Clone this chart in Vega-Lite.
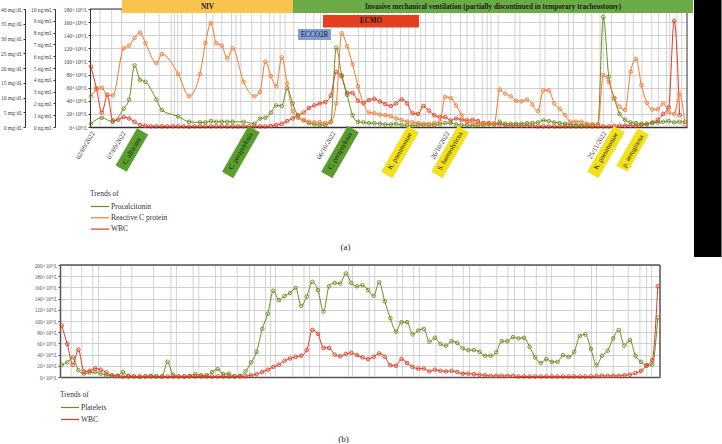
{
"$schema": "https://vega.github.io/schema/vega-lite/v6.json",
"padding": 0,
"autosize": {"type": "pad"},
"background": "white",
"config": {"view": {"stroke": null}, "font": "Liberation Serif"},
"bounds": "flush",
"spacing": 138,
"resolve": {"scale": {"x": "independent", "y": "independent", "color": "independent"}, "legend": {"color": "independent"}},
"datasets": {
"wbc": [{"t":0,"v":92},{"t":1,"v":59},{"t":2,"v":22},{"t":3,"v":49},{"t":4,"v":10},{"t":5,"v":11},{"t":6,"v":15},{"t":7,"v":13},{"t":8,"v":8},{"t":9,"v":3},{"t":10,"v":2},{"t":11,"v":1},{"t":12,"v":1},{"t":13,"v":1},{"t":14,"v":1},{"t":15,"v":1},{"t":16,"v":1},{"t":17,"v":1},{"t":18,"v":0.5},{"t":19,"v":1},{"t":20,"v":1},{"t":21,"v":1},{"t":22,"v":1},{"t":23,"v":1},{"t":24,"v":1},{"t":25,"v":1},{"t":26,"v":1},{"t":27,"v":1},{"t":28,"v":1},{"t":29,"v":1},{"t":30,"v":1},{"t":31,"v":1},{"t":32,"v":1},{"t":33,"v":1.5},{"t":34,"v":3},{"t":35,"v":5},{"t":36,"v":9},{"t":37,"v":13},{"t":38,"v":18},{"t":39,"v":22},{"t":40,"v":29},{"t":41,"v":33},{"t":42,"v":36},{"t":43,"v":38},{"t":44,"v":48},{"t":45,"v":84},{"t":46,"v":77},{"t":47,"v":52},{"t":48,"v":52},{"t":49,"v":40},{"t":50,"v":37},{"t":51,"v":41},{"t":52,"v":43},{"t":53,"v":39},{"t":54,"v":35},{"t":55,"v":32},{"t":56,"v":36},{"t":57,"v":42},{"t":58,"v":36},{"t":59,"v":21},{"t":60,"v":20},{"t":61,"v":32},{"t":62,"v":25},{"t":63,"v":18},{"t":64,"v":15},{"t":65,"v":15},{"t":66,"v":10},{"t":67,"v":13},{"t":68,"v":11},{"t":69,"v":10},{"t":70,"v":11},{"t":71,"v":9},{"t":72,"v":6},{"t":73,"v":6},{"t":74,"v":5},{"t":75,"v":4},{"t":76,"v":3},{"t":77,"v":2},{"t":78,"v":2},{"t":79,"v":2},{"t":80,"v":2},{"t":81,"v":2},{"t":82,"v":1},{"t":83,"v":1},{"t":84,"v":1},{"t":85,"v":1},{"t":86,"v":1},{"t":87,"v":1},{"t":88,"v":1},{"t":89,"v":1},{"t":90,"v":1},{"t":91,"v":1},{"t":92,"v":1},{"t":93,"v":1},{"t":94,"v":1},{"t":95,"v":1},{"t":96,"v":1.5},{"t":97,"v":2},{"t":98,"v":2},{"t":99,"v":2},{"t":100,"v":2},{"t":101,"v":3},{"t":102,"v":4},{"t":103,"v":7},{"t":104,"v":11},{"t":105,"v":20},{"t":106,"v":30},{"t":107,"v":162},{"t":108,"v":18}],
"plt": [{"t":0,"v":22},{"t":1,"v":26},{"t":2,"v":35},{"t":3,"v":12},{"t":4,"v":6},{"t":5,"v":8},{"t":6,"v":9},{"t":7,"v":6},{"t":8,"v":3},{"t":9,"v":2},{"t":10,"v":2},{"t":11,"v":9},{"t":12,"v":2},{"t":13,"v":1},{"t":14,"v":0},{"t":15,"v":1},{"t":16,"v":2},{"t":17,"v":1},{"t":18,"v":1},{"t":19,"v":27},{"t":20,"v":4},{"t":21,"v":1},{"t":22,"v":1},{"t":23,"v":2},{"t":24,"v":5},{"t":25,"v":3},{"t":26,"v":3},{"t":27,"v":9},{"t":28,"v":14},{"t":29,"v":5},{"t":30,"v":6},{"t":31,"v":1},{"t":32,"v":2},{"t":33,"v":10},{"t":34,"v":26},{"t":35,"v":45},{"t":36,"v":86},{"t":37,"v":113},{"t":38,"v":154},{"t":39,"v":137},{"t":40,"v":145},{"t":41,"v":150},{"t":42,"v":159},{"t":43,"v":127},{"t":44,"v":144},{"t":45,"v":170},{"t":46,"v":155},{"t":47,"v":117},{"t":48,"v":162},{"t":49,"v":168},{"t":50,"v":167},{"t":51,"v":185},{"t":52,"v":168},{"t":53,"v":162},{"t":54,"v":164},{"t":55,"v":155},{"t":56,"v":145},{"t":57,"v":169},{"t":58,"v":135},{"t":59,"v":105},{"t":60,"v":81},{"t":61,"v":98},{"t":62,"v":98},{"t":63,"v":76},{"t":64,"v":83},{"t":65,"v":86},{"t":66,"v":63},{"t":67,"v":70},{"t":68,"v":59},{"t":69,"v":56},{"t":70,"v":64},{"t":71,"v":61},{"t":72,"v":51},{"t":73,"v":48},{"t":74,"v":48},{"t":75,"v":45},{"t":76,"v":38},{"t":77,"v":38},{"t":78,"v":44},{"t":79,"v":64},{"t":80,"v":64},{"t":81,"v":71},{"t":82,"v":69},{"t":83,"v":70},{"t":84,"v":54},{"t":85,"v":35},{"t":86,"v":25},{"t":87,"v":32},{"t":88,"v":27},{"t":89,"v":27},{"t":90,"v":39},{"t":91,"v":36},{"t":92,"v":45},{"t":93,"v":73},{"t":94,"v":76},{"t":95,"v":50},{"t":96,"v":21},{"t":97,"v":38},{"t":98,"v":47},{"t":99,"v":69},{"t":100,"v":84},{"t":101,"v":56},{"t":102,"v":66},{"t":103,"v":38},{"t":104,"v":27},{"t":105,"v":21},{"t":106,"v":22},{"t":107,"v":106}],
"pct": [{"t":0,"v":0.28},{"t":2,"v":0.78},{"t":4,"v":0.44},{"t":6,"v":1.56},{"t":7,"v":2.33},{"t":8,"v":5.22},{"t":9,"v":4.0},{"t":10,"v":3.83},{"t":12,"v":2.33},{"t":13,"v":1.44},{"t":16,"v":0.89},{"t":18,"v":0.44},{"t":20,"v":0.39},{"t":21,"v":0.39},{"t":22,"v":0.5},{"t":23,"v":0.44},{"t":24,"v":0.44},{"t":25,"v":0.44},{"t":26,"v":0.44},{"t":28,"v":0.44},{"t":30,"v":0.28},{"t":31,"v":0.72},{"t":32,"v":0.78},{"t":33,"v":1.22},{"t":34,"v":1.83},{"t":35,"v":1.78},{"t":36,"v":3.28},{"t":37,"v":2.0},{"t":38,"v":0.89},{"t":39,"v":0.56},{"t":40,"v":0.33},{"t":41,"v":0.22},{"t":42,"v":0.17},{"t":43,"v":0.17},{"t":44,"v":0.44},{"t":45,"v":6.72},{"t":46,"v":4.39},{"t":47,"v":2.72},{"t":48,"v":1.0},{"t":49,"v":0.44},{"t":50,"v":0.39},{"t":51,"v":0.33},{"t":52,"v":0.33},{"t":53,"v":0.28},{"t":54,"v":0.22},{"t":55,"v":0.22},{"t":56,"v":0.28},{"t":57,"v":0.17},{"t":58,"v":0.17},{"t":59,"v":0.11},{"t":60,"v":0.17},{"t":61,"v":0.17},{"t":62,"v":0.17},{"t":63,"v":0.17},{"t":64,"v":0.22},{"t":65,"v":0.33},{"t":66,"v":0.33},{"t":67,"v":0.22},{"t":68,"v":0.17},{"t":69,"v":0.17},{"t":70,"v":0.11},{"t":71,"v":0.17},{"t":72,"v":0.17},{"t":73,"v":0.22},{"t":74,"v":0.22},{"t":75,"v":0.44},{"t":76,"v":0.28},{"t":77,"v":0.28},{"t":78,"v":0.28},{"t":79,"v":0.28},{"t":80,"v":0.33},{"t":81,"v":0.33},{"t":82,"v":0.39},{"t":83,"v":0.56},{"t":84,"v":0.5},{"t":85,"v":0.39},{"t":86,"v":0.33},{"t":87,"v":0.28},{"t":88,"v":0.22},{"t":89,"v":0.17},{"t":90,"v":0.17},{"t":91,"v":0.17},{"t":92,"v":0.17},{"t":93,"v":0.22},{"t":94,"v":9.33},{"t":95,"v":4.28},{"t":96,"v":2.44},{"t":97,"v":1.11},{"t":98,"v":0.61},{"t":99,"v":0.39},{"t":100,"v":0.33},{"t":101,"v":0.28},{"t":102,"v":0.28},{"t":103,"v":0.33},{"t":104,"v":0.39},{"t":105,"v":0.44},{"t":106,"v":0.5},{"t":107,"v":0.39},{"t":108,"v":0.44},{"t":109,"v":0.44}],
"crp": [{"t":0,"v":10.4},{"t":1,"v":12.7},{"t":2,"v":13.3},{"t":3,"v":10.7},{"t":4,"v":10.7},{"t":6,"v":26.7},{"t":7,"v":27.6},{"t":8,"v":30.2},{"t":9,"v":32.0},{"t":10,"v":28.4},{"t":12,"v":21.6},{"t":13,"v":24.7},{"t":16,"v":18.0},{"t":18,"v":10.4},{"t":20,"v":18.0},{"t":21,"v":28.4},{"t":22,"v":35.3},{"t":23,"v":28.4},{"t":24,"v":27.6},{"t":25,"v":23.3},{"t":26,"v":26.7},{"t":28,"v":15.3},{"t":30,"v":10.4},{"t":31,"v":11.8},{"t":32,"v":22.2},{"t":33,"v":17.3},{"t":34,"v":13.8},{"t":35,"v":23.6},{"t":36,"v":14.7},{"t":37,"v":5.3},{"t":38,"v":3.1},{"t":39,"v":2.4},{"t":40,"v":1.8},{"t":41,"v":1.6},{"t":42,"v":1.6},{"t":43,"v":1.3},{"t":44,"v":1.6},{"t":45,"v":8.0},{"t":46,"v":31.8},{"t":47,"v":27.3},{"t":48,"v":21.3},{"t":49,"v":13.8},{"t":50,"v":8.0},{"t":51,"v":4.9},{"t":52,"v":4.7},{"t":53,"v":4.2},{"t":54,"v":4.0},{"t":55,"v":3.6},{"t":56,"v":2.9},{"t":57,"v":2.4},{"t":58,"v":1.8},{"t":59,"v":1.6},{"t":60,"v":1.3},{"t":61,"v":1.1},{"t":62,"v":1.1},{"t":63,"v":1.3},{"t":64,"v":1.8},{"t":65,"v":10.2},{"t":66,"v":9.8},{"t":67,"v":7.3},{"t":68,"v":4.0},{"t":69,"v":1.8},{"t":70,"v":1.3},{"t":71,"v":1.1},{"t":72,"v":1.1},{"t":73,"v":1.1},{"t":74,"v":1.1},{"t":75,"v":12.7},{"t":76,"v":11.3},{"t":77,"v":10.4},{"t":78,"v":8.9},{"t":79,"v":8.7},{"t":80,"v":9.3},{"t":81,"v":7.6},{"t":82,"v":5.3},{"t":83,"v":12.4},{"t":84,"v":12.4},{"t":85,"v":8.0},{"t":86,"v":6.2},{"t":87,"v":4.0},{"t":88,"v":1.8},{"t":89,"v":1.8},{"t":90,"v":1.8},{"t":91,"v":1.1},{"t":92,"v":0.9},{"t":93,"v":0.9},{"t":94,"v":17.6},{"t":95,"v":15.3},{"t":96,"v":9.8},{"t":97,"v":6.9},{"t":98,"v":5.8},{"t":99,"v":18.7},{"t":100,"v":23.1},{"t":101,"v":14.2},{"t":102,"v":8.2},{"t":103,"v":6.0},{"t":104,"v":6.0},{"t":105,"v":8.0},{"t":106,"v":5.1},{"t":107,"v":4.4},{"t":108,"v":11.1},{"t":109,"v":0.9}],
"vgt": [{"t":1.65},{"t":3.8},{"t":5.6},{"t":9.8},{"t":12.5},{"t":14.7},{"t":15.3},{"t":15.9},{"t":16.6},{"t":18.6},{"t":21.2},{"t":22.4},{"t":24.0},{"t":25.8},{"t":26.6},{"t":27.5},{"t":29.5},{"t":31.2},{"t":32.8},{"t":33.6},{"t":34.7},{"t":35.6},{"t":37.2},{"t":39.4},{"t":40.9},{"t":42.1},{"t":43.2},{"t":49.1},{"t":50.4},{"t":51.8},{"t":53.2},{"t":54.3},{"t":55.4},{"t":56.8},{"t":58.3},{"t":59.5},{"t":60.5},{"t":61.4},{"t":62.9},{"t":64.4},{"t":66.0},{"t":67.8},{"t":69.0},{"t":70.3},{"t":71.8},{"t":72.7},{"t":73.4},{"t":74.7},{"t":77.8},{"t":78.7},{"t":82.4},{"t":83.3},{"t":85.8},{"t":87.6},{"t":88.5},{"t":90.7},{"t":91.9},{"t":93.4},{"t":94.0},{"t":95.5},{"t":98.0},{"t":99.5},{"t":101.1},{"t":102.9},{"t":104.1},{"t":105.6},{"t":106.2},{"t":107.5},{"t":108.4}],
"vgb": [{"t":1.7},{"t":3.6},{"t":5.6},{"t":6.6},{"t":10.6},{"t":12.6},{"t":16.5},{"t":19.6},{"t":20.6},{"t":23.6},{"t":24.6},{"t":27.6},{"t":28.6},{"t":31.5},{"t":33.7},{"t":34.6},{"t":36.6},{"t":37.5},{"t":38.4},{"t":41.5},{"t":43.5},{"t":44.5},{"t":46.3},{"t":51.5},{"t":52.2},{"t":55.2},{"t":56.2},{"t":60.2},{"t":61.2},{"t":63.2},{"t":64.2},{"t":67.2},{"t":70.2},{"t":72.1},{"t":73.2},{"t":75.1},{"t":78.1},{"t":80.1},{"t":81.3},{"t":83.1},{"t":85.2},{"t":87.0},{"t":87.9},{"t":92.0},{"t":95.1},{"t":96.0},{"t":99.0},{"t":101.7},{"t":103.8},{"t":105.0},{"t":105.9}],
"bars": [{"kind":"NIV","label":"NIV","x1":5.69,"x2":37.06,"y1":173.9,"y2":193.7},{"kind":"IMV","label":"Invasive mechanical ventilation (partially discontinued in temporary tracheostomy)","x1":37.06,"x2":110.46,"y1":173.9,"y2":193.7},{"kind":"ECMO","label":"ECMO","x1":42.57,"x2":60.18,"y1":151.8,"y2":170.8},{"kind":"ECCO2R","label":"ECCO2R","x1":37.98,"x2":44.04,"y1":132.7,"y2":149.5},{"kind":"crop","label":"","x1":110.64,"x2":115.7,"y1":-198.3,"y2":193.7}],
"tags": [{"t":7.5,"label":"C. albicans","kind":"fungus"},{"t":27.5,"label":"C. parapsylosis","kind":"fungus"},{"t":45.7,"label":"C. parapsylosis","kind":"fungus"},{"t":56.7,"label":"K. pneumoniae","kind":"bacterium"},{"t":65.9,"label":"S. haemolyticus","kind":"bacterium"},{"t":94.5,"label":"K. pneumoniae","kind":"bacterium"},{"t":99.4,"label":"p. aeruginosa","kind":"bacterium"}],
"dates": [{"t":0.4,"label":"02/09/2022"},{"t":6.1,"label":"07/09/2022"},{"t":44.6,"label":"06/10/2022"},{"t":65.5,"label":"26/10/2022"},{"t":94.3,"label":"25/11/2022"}]
},
"vconcat": [
{
"width": 687, "height": 127,
"resolve": {"scale": {"y": "independent"}},
"layer": [
{
"layer": [
{"data": {"name": "vgt"}, "mark": {"type": "rule", "color": "#c6c6c6", "strokeWidth": 0.8},
 "encoding": {
  "x": {"field": "t", "type": "quantitative", "scale": {"domain": [-0.18, 109.36], "range": [90, 687], "nice": false, "zero": false},
   "axis": {"title": "(a)", "titleX": 345, "titleY": 119, "titleBaseline": "middle", "titleAlign": "center", "titleAngle": 0, "titleFontSize": 9, "titleFontWeight": "normal", "titleColor": "#222222", "labels": false, "ticks": false, "grid": false, "domainColor": "#333333", "domainWidth": 1.5}},
  "y": {"datum": 0, "type": "quantitative", "scale": {"domain": [0, 180], "range": [127, 9], "nice": false, "zero": false},
   "axis": {"title": null, "orient": "left", "offset": -90, "values": [0,20,40,60,80,100,120,140,160,180], "labelExpr": "datum.value + '×10⁹/L'", "labelFontSize": 5.5, "labelColor": "#444444", "labelPadding": 1, "tickSize": 2, "tickColor": "#333333", "domainColor": "#333333", "domainWidth": 1, "grid": true, "gridColor": "#c4c4c4", "gridWidth": 0.8}},
  "y2": {"datum": 180}}},
{"data": {"values": [{}]}, "mark": {"type": "rule", "color": "#333333", "strokeWidth": 1},
 "encoding": {
  "x": {"datum": -0.18, "type": "quantitative", "scale": {"domain": [-0.18, 109.36], "range": [90, 687], "nice": false, "zero": false},
   "axis": {"title": "(a)", "titleX": 345, "titleY": 119, "titleBaseline": "middle", "titleAlign": "center", "titleAngle": 0, "titleFontSize": 9, "titleFontWeight": "normal", "titleColor": "#222222", "labels": false, "ticks": false, "grid": false, "domainColor": "#333333", "domainWidth": 1.5}},
  "x2": {"datum": 109.36},
  "y": {"datum": 180, "type": "quantitative", "scale": {"domain": [0, 180], "range": [127, 9], "nice": false, "zero": false},
   "axis": {"title": null, "orient": "left", "offset": -90, "values": [0,20,40,60,80,100,120,140,160,180], "labelExpr": "datum.value + '×10⁹/L'", "labelFontSize": 5.5, "labelColor": "#444444", "labelPadding": 1, "tickSize": 2, "tickColor": "#333333", "domainColor": "#333333", "domainWidth": 1, "grid": true, "gridColor": "#c4c4c4", "gridWidth": 0.8}}}},
{"data": {"values": [{}]}, "mark": {"type": "rule", "color": "#333333", "strokeWidth": 1},
 "encoding": {
  "x": {"datum": 109.36, "type": "quantitative", "scale": {"domain": [-0.18, 109.36], "range": [90, 687], "nice": false, "zero": false},
   "axis": {"title": "(a)", "titleX": 345, "titleY": 119, "titleBaseline": "middle", "titleAlign": "center", "titleAngle": 0, "titleFontSize": 9, "titleFontWeight": "normal", "titleColor": "#222222", "labels": false, "ticks": false, "grid": false, "domainColor": "#333333", "domainWidth": 1.5}},
  "y": {"datum": 0, "type": "quantitative", "scale": {"domain": [0, 180], "range": [127, 9], "nice": false, "zero": false},
   "axis": {"title": null, "orient": "left", "offset": -90, "values": [0,20,40,60,80,100,120,140,160,180], "labelExpr": "datum.value + '×10⁹/L'", "labelFontSize": 5.5, "labelColor": "#444444", "labelPadding": 1, "tickSize": 2, "tickColor": "#333333", "domainColor": "#333333", "domainWidth": 1, "grid": true, "gridColor": "#c4c4c4", "gridWidth": 0.8}},
  "y2": {"datum": 180}}},
{"data": {"name": "wbc"}, "mark": {"type": "line", "interpolate": "monotone", "strokeWidth": 1},
 "encoding": {
  "x": {"field": "t", "type": "quantitative", "scale": {"domain": [-0.18, 109.36], "range": [90, 687], "nice": false, "zero": false},
   "axis": {"title": "(a)", "titleX": 345, "titleY": 119, "titleBaseline": "middle", "titleAlign": "center", "titleAngle": 0, "titleFontSize": 9, "titleFontWeight": "normal", "titleColor": "#222222", "labels": false, "ticks": false, "grid": false, "domainColor": "#333333", "domainWidth": 1.5}},
  "y": {"field": "v", "type": "quantitative", "scale": {"domain": [0, 180], "range": [127, 9], "nice": false, "zero": false},
   "axis": {"title": null, "orient": "left", "offset": -90, "values": [0,20,40,60,80,100,120,140,160,180], "labelExpr": "datum.value + '×10⁹/L'", "labelFontSize": 5.5, "labelColor": "#444444", "labelPadding": 1, "tickSize": 2, "tickColor": "#333333", "domainColor": "#333333", "domainWidth": 1, "grid": true, "gridColor": "#c4c4c4", "gridWidth": 0.8}},
  "color": {"datum": "WBC", "type": "nominal", "scale": {"domain": ["Procalcitonin", "Reactive C protein", "WBC"], "range": ["#6f8b22", "#f4782f", "#e53b1f"]},
   "legend": {"title": "Trends of", "orient": "none", "legendX": 90, "legendY": 190, "symbolType": "M-2.25,0H2.25", "symbolSize": 64, "symbolOffset": 5, "symbolStrokeWidth": 1.2, "labelFontSize": 7.5, "labelColor": "#333333", "labelOffset": 6, "titleFontSize": 7.5, "titleFontWeight": "normal", "titleColor": "#333333", "titlePadding": 4, "rowPadding": 2.3, "labelLimit": 200}}}},
{"data": {"name": "wbc"}, "mark": {"type": "point", "filled": false, "size": 13, "strokeWidth": 0.9, "opacity": 1},
 "encoding": {
  "x": {"field": "t", "type": "quantitative", "scale": {"domain": [-0.18, 109.36], "range": [90, 687], "nice": false, "zero": false},
   "axis": {"title": "(a)", "titleX": 345, "titleY": 119, "titleBaseline": "middle", "titleAlign": "center", "titleAngle": 0, "titleFontSize": 9, "titleFontWeight": "normal", "titleColor": "#222222", "labels": false, "ticks": false, "grid": false, "domainColor": "#333333", "domainWidth": 1.5}},
  "y": {"field": "v", "type": "quantitative", "scale": {"domain": [0, 180], "range": [127, 9], "nice": false, "zero": false},
   "axis": {"title": null, "orient": "left", "offset": -90, "values": [0,20,40,60,80,100,120,140,160,180], "labelExpr": "datum.value + '×10⁹/L'", "labelFontSize": 5.5, "labelColor": "#444444", "labelPadding": 1, "tickSize": 2, "tickColor": "#333333", "domainColor": "#333333", "domainWidth": 1, "grid": true, "gridColor": "#c4c4c4", "gridWidth": 0.8}},
  "color": {"datum": "WBC", "type": "nominal", "scale": {"domain": ["Procalcitonin", "Reactive C protein", "WBC"], "range": ["#6f8b22", "#f4782f", "#e53b1f"]}}}},
{"data": {"name": "bars"}, "mark": {"type": "rect", "clip": false},
 "encoding": {
  "x": {"field": "x1", "type": "quantitative", "scale": {"domain": [-0.18, 109.36], "range": [90, 687], "nice": false, "zero": false},
   "axis": {"title": "(a)", "titleX": 345, "titleY": 119, "titleBaseline": "middle", "titleAlign": "center", "titleAngle": 0, "titleFontSize": 9, "titleFontWeight": "normal", "titleColor": "#222222", "labels": false, "ticks": false, "grid": false, "domainColor": "#333333", "domainWidth": 1.5}},
  "x2": {"field": "x2"},
  "y": {"field": "y1", "type": "quantitative", "scale": {"domain": [0, 180], "range": [127, 9], "nice": false, "zero": false},
   "axis": {"title": null, "orient": "left", "offset": -90, "values": [0,20,40,60,80,100,120,140,160,180], "labelExpr": "datum.value + '×10⁹/L'", "labelFontSize": 5.5, "labelColor": "#444444", "labelPadding": 1, "tickSize": 2, "tickColor": "#333333", "domainColor": "#333333", "domainWidth": 1, "grid": true, "gridColor": "#c4c4c4", "gridWidth": 0.8}},
  "y2": {"field": "y2"},
  "fill": {"field": "kind", "type": "nominal", "scale": {"domain": ["NIV","IMV","ECMO","ECCO2R","crop","fungus","bacterium"], "range": ["#f9c34e","#6aab46","#e2401e","#7f9fd6","#000000","#5a9f2e","#f3e11c"]}, "legend": null}}},
{"data": {"name": "bars"}, "transform": [{"filter": "datum.label != '' && datum.kind != 'ECCO2R'"}, {"calculate": "(datum.x1 + datum.x2) / 2", "as": "xc"}, {"calculate": "(datum.y1 + datum.y2) / 2", "as": "yc"}],
 "mark": {"type": "text", "clip": false, "fontSize": 7.2, "fontWeight": "bold", "color": "#1a1a1a", "align": "center", "baseline": "middle"},
 "encoding": {
  "x": {"field": "xc", "type": "quantitative", "scale": {"domain": [-0.18, 109.36], "range": [90, 687], "nice": false, "zero": false},
   "axis": {"title": "(a)", "titleX": 345, "titleY": 119, "titleBaseline": "middle", "titleAlign": "center", "titleAngle": 0, "titleFontSize": 9, "titleFontWeight": "normal", "titleColor": "#222222", "labels": false, "ticks": false, "grid": false, "domainColor": "#333333", "domainWidth": 1.5}},
  "y": {"field": "yc", "type": "quantitative", "scale": {"domain": [0, 180], "range": [127, 9], "nice": false, "zero": false},
   "axis": {"title": null, "orient": "left", "offset": -90, "values": [0,20,40,60,80,100,120,140,160,180], "labelExpr": "datum.value + '×10⁹/L'", "labelFontSize": 5.5, "labelColor": "#444444", "labelPadding": 1, "tickSize": 2, "tickColor": "#333333", "domainColor": "#333333", "domainWidth": 1, "grid": true, "gridColor": "#c4c4c4", "gridWidth": 0.8}},
  "text": {"field": "label"}}},
{"data": {"name": "bars"}, "transform": [{"filter": "datum.kind == 'ECCO2R'"}, {"calculate": "(datum.x1 + datum.x2) / 2", "as": "xc"}, {"calculate": "(datum.y1 + datum.y2) / 2", "as": "yc"}],
 "mark": {"type": "text", "clip": false, "fontSize": 7.2, "fontWeight": "normal", "color": "#1a1a2a", "align": "center", "baseline": "middle"},
 "encoding": {
  "x": {"field": "xc", "type": "quantitative", "scale": {"domain": [-0.18, 109.36], "range": [90, 687], "nice": false, "zero": false},
   "axis": {"title": "(a)", "titleX": 345, "titleY": 119, "titleBaseline": "middle", "titleAlign": "center", "titleAngle": 0, "titleFontSize": 9, "titleFontWeight": "normal", "titleColor": "#222222", "labels": false, "ticks": false, "grid": false, "domainColor": "#333333", "domainWidth": 1.5}},
  "y": {"field": "yc", "type": "quantitative", "scale": {"domain": [0, 180], "range": [127, 9], "nice": false, "zero": false},
   "axis": {"title": null, "orient": "left", "offset": -90, "values": [0,20,40,60,80,100,120,140,160,180], "labelExpr": "datum.value + '×10⁹/L'", "labelFontSize": 5.5, "labelColor": "#444444", "labelPadding": 1, "tickSize": 2, "tickColor": "#333333", "domainColor": "#333333", "domainWidth": 1, "grid": true, "gridColor": "#c4c4c4", "gridWidth": 0.8}},
  "text": {"field": "label"}}},
{"data": {"name": "dates"}, "mark": {"type": "text", "clip": false, "fontSize": 6.8, "color": "#333333", "angle": -60, "align": "right", "baseline": "middle", "yOffset": 5},
 "encoding": {
  "x": {"field": "t", "type": "quantitative", "scale": {"domain": [-0.18, 109.36], "range": [90, 687], "nice": false, "zero": false},
   "axis": {"title": "(a)", "titleX": 345, "titleY": 119, "titleBaseline": "middle", "titleAlign": "center", "titleAngle": 0, "titleFontSize": 9, "titleFontWeight": "normal", "titleColor": "#222222", "labels": false, "ticks": false, "grid": false, "domainColor": "#333333", "domainWidth": 1.5}},
  "y": {"datum": 0, "type": "quantitative", "scale": {"domain": [0, 180], "range": [127, 9], "nice": false, "zero": false},
   "axis": {"title": null, "orient": "left", "offset": -90, "values": [0,20,40,60,80,100,120,140,160,180], "labelExpr": "datum.value + '×10⁹/L'", "labelFontSize": 5.5, "labelColor": "#444444", "labelPadding": 1, "tickSize": 2, "tickColor": "#333333", "domainColor": "#333333", "domainWidth": 1, "grid": true, "gridColor": "#c4c4c4", "gridWidth": 0.8}},
  "text": {"field": "label"}}},
{"data": {"name": "tags"}, "transform": [{"filter": "datum.label != 'C. albicans' && datum.label != 'p. aeruginosa'"}], "mark": {"type": "point", "clip": false, "shape": "M-1,-0.245H1V0.245H-1Z", "size": 2809, "angle": -60, "filled": true, "opacity": 1, "strokeWidth": 0, "yOffset": 25},
 "encoding": {
  "x": {"field": "t", "type": "quantitative", "scale": {"domain": [-0.18, 109.36], "range": [90, 687], "nice": false, "zero": false},
   "axis": {"title": "(a)", "titleX": 345, "titleY": 119, "titleBaseline": "middle", "titleAlign": "center", "titleAngle": 0, "titleFontSize": 9, "titleFontWeight": "normal", "titleColor": "#222222", "labels": false, "ticks": false, "grid": false, "domainColor": "#333333", "domainWidth": 1.5}},
  "y": {"datum": 0, "type": "quantitative", "scale": {"domain": [0, 180], "range": [127, 9], "nice": false, "zero": false},
   "axis": {"title": null, "orient": "left", "offset": -90, "values": [0,20,40,60,80,100,120,140,160,180], "labelExpr": "datum.value + '×10⁹/L'", "labelFontSize": 5.5, "labelColor": "#444444", "labelPadding": 1, "tickSize": 2, "tickColor": "#333333", "domainColor": "#333333", "domainWidth": 1, "grid": true, "gridColor": "#c4c4c4", "gridWidth": 0.8}},
  "fill": {"field": "kind", "type": "nominal", "scale": {"domain": ["NIV","IMV","ECMO","ECCO2R","crop","fungus","bacterium"], "range": ["#f9c34e","#6aab46","#e2401e","#7f9fd6","#000000","#5a9f2e","#f3e11c"]}, "legend": null}}},
{"data": {"name": "tags"}, "transform": [{"filter": "datum.label == 'C. albicans' || datum.label == 'p. aeruginosa'"}], "mark": {"type": "point", "clip": false, "shape": "M-1,-0.3H1V0.3H-1Z", "size": 1849, "angle": -60, "filled": true, "opacity": 1, "strokeWidth": 0, "yOffset": 23},
 "encoding": {
  "x": {"field": "t", "type": "quantitative", "scale": {"domain": [-0.18, 109.36], "range": [90, 687], "nice": false, "zero": false},
   "axis": {"title": "(a)", "titleX": 345, "titleY": 119, "titleBaseline": "middle", "titleAlign": "center", "titleAngle": 0, "titleFontSize": 9, "titleFontWeight": "normal", "titleColor": "#222222", "labels": false, "ticks": false, "grid": false, "domainColor": "#333333", "domainWidth": 1.5}},
  "y": {"datum": 0, "type": "quantitative", "scale": {"domain": [0, 180], "range": [127, 9], "nice": false, "zero": false},
   "axis": {"title": null, "orient": "left", "offset": -90, "values": [0,20,40,60,80,100,120,140,160,180], "labelExpr": "datum.value + '×10⁹/L'", "labelFontSize": 5.5, "labelColor": "#444444", "labelPadding": 1, "tickSize": 2, "tickColor": "#333333", "domainColor": "#333333", "domainWidth": 1, "grid": true, "gridColor": "#c4c4c4", "gridWidth": 0.8}},
  "fill": {"field": "kind", "type": "nominal", "scale": {"domain": ["NIV","IMV","ECMO","ECCO2R","crop","fungus","bacterium"], "range": ["#f9c34e","#6aab46","#e2401e","#7f9fd6","#000000","#5a9f2e","#f3e11c"]}, "legend": null}}},
{"data": {"name": "tags"}, "transform": [{"calculate": "datum.label == 'C. albicans' || datum.label == 'p. aeruginosa' ? 0 : 1", "as": "long"}], "mark": {"type": "text", "clip": false, "fontSize": 6.8, "color": "#111111", "angle": -60, "align": "center", "baseline": "middle", "yOffset": 24},
 "encoding": {
  "x": {"field": "t", "type": "quantitative", "scale": {"domain": [-0.18, 109.36], "range": [90, 687], "nice": false, "zero": false},
   "axis": {"title": "(a)", "titleX": 345, "titleY": 119, "titleBaseline": "middle", "titleAlign": "center", "titleAngle": 0, "titleFontSize": 9, "titleFontWeight": "normal", "titleColor": "#222222", "labels": false, "ticks": false, "grid": false, "domainColor": "#333333", "domainWidth": 1.5}},
  "y": {"datum": 0, "type": "quantitative", "scale": {"domain": [0, 180], "range": [127, 9], "nice": false, "zero": false},
   "axis": {"title": null, "orient": "left", "offset": -90, "values": [0,20,40,60,80,100,120,140,160,180], "labelExpr": "datum.value + '×10⁹/L'", "labelFontSize": 5.5, "labelColor": "#444444", "labelPadding": 1, "tickSize": 2, "tickColor": "#333333", "domainColor": "#333333", "domainWidth": 1, "grid": true, "gridColor": "#c4c4c4", "gridWidth": 0.8}},
  "text": {"field": "label"}}}
]
},
{"data": {"name": "pct"},
 "encoding": {
  "x": {"field": "t", "type": "quantitative", "scale": {"domain": [-0.18, 109.36], "range": [90, 687], "nice": false, "zero": false},
   "axis": {"title": "(a)", "titleX": 345, "titleY": 119, "titleBaseline": "middle", "titleAlign": "center", "titleAngle": 0, "titleFontSize": 9, "titleFontWeight": "normal", "titleColor": "#222222", "labels": false, "ticks": false, "grid": false, "domainColor": "#333333", "domainWidth": 1.5}},
  "y": {"field": "v", "type": "quantitative", "scale": {"domain": [0, 10], "range": [127, 9], "nice": false, "zero": false},
   "axis": {"title": null, "orient": "left", "offset": -55, "values": [0,1,2,3,4,5,6,7,8,9,10], "labelExpr": "datum.value + ' ng/mL'", "labelFontSize": 5.5, "labelColor": "#444444", "labelPadding": 1, "tickSize": 2, "tickColor": "#333333", "domainColor": "#333333", "grid": false}},
  "color": {"datum": "Procalcitonin", "type": "nominal", "scale": {"domain": ["Procalcitonin", "Reactive C protein", "WBC"], "range": ["#6f8b22", "#f4782f", "#e53b1f"]}}},
 "layer": [
  {"mark": {"type": "line", "interpolate": "monotone", "strokeWidth": 1}},
  {"mark": {"type": "point", "filled": false, "size": 13, "strokeWidth": 0.9, "opacity": 1}}
 ]},
{"data": {"name": "crp"},
 "encoding": {
  "x": {"field": "t", "type": "quantitative", "scale": {"domain": [-0.18, 109.36], "range": [90, 687], "nice": false, "zero": false},
   "axis": {"title": "(a)", "titleX": 345, "titleY": 119, "titleBaseline": "middle", "titleAlign": "center", "titleAngle": 0, "titleFontSize": 9, "titleFontWeight": "normal", "titleColor": "#222222", "labels": false, "ticks": false, "grid": false, "domainColor": "#333333", "domainWidth": 1.5}},
  "y": {"field": "v", "type": "quantitative", "scale": {"domain": [0, 40], "range": [127, 9], "nice": false, "zero": false},
   "axis": {"title": null, "orient": "left", "offset": -25, "values": [0,5,10,15,20,25,30,35,40], "labelExpr": "datum.value + ' mg/dL'", "labelFontSize": 5.5, "labelColor": "#444444", "labelPadding": 1, "tickSize": 2, "tickColor": "#333333", "domainColor": "#333333", "grid": false}},
  "color": {"datum": "Reactive C protein", "type": "nominal", "scale": {"domain": ["Procalcitonin", "Reactive C protein", "WBC"], "range": ["#6f8b22", "#f4782f", "#e53b1f"]}}},
 "layer": [
  {"mark": {"type": "line", "interpolate": "monotone", "strokeWidth": 1}},
  {"mark": {"type": "point", "filled": false, "size": 13, "strokeWidth": 0.9, "opacity": 1}}
 ]}
]
},
{
"width": 660, "height": 112,
"layer": [
{"data": {"name": "vgb"}, "mark": {"type": "rule", "color": "#c6c6c6", "strokeWidth": 0.8},
 "encoding": {
  "x": {"field": "t", "type": "quantitative", "scale": {"domain": [-0.3, 107.4], "range": [60, 660], "nice": false, "zero": false},
   "axis": {"title": "(b)", "titleX": 343, "titleY": 61, "titleBaseline": "middle", "titleAlign": "center", "titleAngle": 0, "titleFontSize": 9, "titleFontWeight": "normal", "titleColor": "#222222", "labels": false, "ticks": false, "grid": false, "domainColor": "#555555", "domainWidth": 1.5}},
  "y": {"datum": 0, "type": "quantitative", "scale": {"domain": [0, 200], "nice": false, "zero": false},
   "axis": {"title": null, "orient": "left", "offset": -60, "values": [0,20,40,60,80,100,120,140,160,180,200], "labelExpr": "datum.value + '×10⁹/L'", "labelFontSize": 5.3, "labelColor": "#555555", "labelPadding": 1, "tickSize": 2, "tickColor": "#555555", "domainColor": "#555555", "domainWidth": 1.5, "grid": true, "gridColor": "#c4c4c4", "gridWidth": 0.8}},
  "y2": {"datum": 200}}},
{"data": {"values": [{}]}, "mark": {"type": "rule", "color": "#555555", "strokeWidth": 1.5},
 "encoding": {
  "x": {"datum": -0.3, "type": "quantitative", "scale": {"domain": [-0.3, 107.4], "range": [60, 660], "nice": false, "zero": false},
   "axis": {"title": "(b)", "titleX": 343, "titleY": 61, "titleBaseline": "middle", "titleAlign": "center", "titleAngle": 0, "titleFontSize": 9, "titleFontWeight": "normal", "titleColor": "#222222", "labels": false, "ticks": false, "grid": false, "domainColor": "#555555", "domainWidth": 1.5}},
  "x2": {"datum": 107.4},
  "y": {"datum": 200, "type": "quantitative", "scale": {"domain": [0, 200], "nice": false, "zero": false},
   "axis": {"title": null, "orient": "left", "offset": -60, "values": [0,20,40,60,80,100,120,140,160,180,200], "labelExpr": "datum.value + '×10⁹/L'", "labelFontSize": 5.3, "labelColor": "#555555", "labelPadding": 1, "tickSize": 2, "tickColor": "#555555", "domainColor": "#555555", "domainWidth": 1.5, "grid": true, "gridColor": "#c4c4c4", "gridWidth": 0.8}}}},
{"data": {"values": [{}]}, "mark": {"type": "rule", "color": "#555555", "strokeWidth": 1.5},
 "encoding": {
  "x": {"datum": 107.4, "type": "quantitative", "scale": {"domain": [-0.3, 107.4], "range": [60, 660], "nice": false, "zero": false},
   "axis": {"title": "(b)", "titleX": 343, "titleY": 61, "titleBaseline": "middle", "titleAlign": "center", "titleAngle": 0, "titleFontSize": 9, "titleFontWeight": "normal", "titleColor": "#222222", "labels": false, "ticks": false, "grid": false, "domainColor": "#555555", "domainWidth": 1.5}},
  "y": {"datum": 0, "type": "quantitative", "scale": {"domain": [0, 200], "nice": false, "zero": false},
   "axis": {"title": null, "orient": "left", "offset": -60, "values": [0,20,40,60,80,100,120,140,160,180,200], "labelExpr": "datum.value + '×10⁹/L'", "labelFontSize": 5.3, "labelColor": "#555555", "labelPadding": 1, "tickSize": 2, "tickColor": "#555555", "domainColor": "#555555", "domainWidth": 1.5, "grid": true, "gridColor": "#c4c4c4", "gridWidth": 0.8}},
  "y2": {"datum": 200}}},
{"data": {"name": "plt"}, "mark": {"type": "line", "interpolate": "monotone", "strokeWidth": 1},
 "encoding": {
  "x": {"field": "t", "type": "quantitative", "scale": {"domain": [-0.3, 107.4], "range": [60, 660], "nice": false, "zero": false},
   "axis": {"title": "(b)", "titleX": 343, "titleY": 61, "titleBaseline": "middle", "titleAlign": "center", "titleAngle": 0, "titleFontSize": 9, "titleFontWeight": "normal", "titleColor": "#222222", "labels": false, "ticks": false, "grid": false, "domainColor": "#555555", "domainWidth": 1.5}},
  "y": {"field": "v", "type": "quantitative", "scale": {"domain": [0, 200], "nice": false, "zero": false},
   "axis": {"title": null, "orient": "left", "offset": -60, "values": [0,20,40,60,80,100,120,140,160,180,200], "labelExpr": "datum.value + '×10⁹/L'", "labelFontSize": 5.3, "labelColor": "#555555", "labelPadding": 1, "tickSize": 2, "tickColor": "#555555", "domainColor": "#555555", "domainWidth": 1.5, "grid": true, "gridColor": "#c4c4c4", "gridWidth": 0.8}},
  "color": {"datum": "Platelets", "type": "nominal", "scale": {"domain": ["Platelets", "WBC"], "range": ["#6f8b22", "#e53b1f"]},
   "legend": {"title": "Trends of", "orient": "none", "legendX": 60, "legendY": 126, "symbolType": "M-2.25,0H2.25", "symbolSize": 64, "symbolOffset": 5, "symbolStrokeWidth": 1.2, "labelFontSize": 7.5, "labelColor": "#333333", "labelOffset": 6, "titleFontSize": 7.5, "titleFontWeight": "normal", "titleColor": "#333333", "titlePadding": 4, "rowPadding": 3, "labelLimit": 200}}}},
{"data": {"name": "plt"}, "mark": {"type": "point", "filled": false, "size": 13, "strokeWidth": 0.9, "opacity": 1},
 "encoding": {
  "x": {"field": "t", "type": "quantitative", "scale": {"domain": [-0.3, 107.4], "range": [60, 660], "nice": false, "zero": false},
   "axis": {"title": "(b)", "titleX": 343, "titleY": 61, "titleBaseline": "middle", "titleAlign": "center", "titleAngle": 0, "titleFontSize": 9, "titleFontWeight": "normal", "titleColor": "#222222", "labels": false, "ticks": false, "grid": false, "domainColor": "#555555", "domainWidth": 1.5}},
  "y": {"field": "v", "type": "quantitative", "scale": {"domain": [0, 200], "nice": false, "zero": false},
   "axis": {"title": null, "orient": "left", "offset": -60, "values": [0,20,40,60,80,100,120,140,160,180,200], "labelExpr": "datum.value + '×10⁹/L'", "labelFontSize": 5.3, "labelColor": "#555555", "labelPadding": 1, "tickSize": 2, "tickColor": "#555555", "domainColor": "#555555", "domainWidth": 1.5, "grid": true, "gridColor": "#c4c4c4", "gridWidth": 0.8}},
  "color": {"datum": "Platelets", "type": "nominal", "scale": {"domain": ["Platelets", "WBC"], "range": ["#6f8b22", "#e53b1f"]}}}},
{"data": {"name": "wbc"}, "transform": [{"filter": "datum.t <= 107"}], "mark": {"type": "line", "interpolate": "monotone", "strokeWidth": 1},
 "encoding": {
  "x": {"field": "t", "type": "quantitative", "scale": {"domain": [-0.3, 107.4], "range": [60, 660], "nice": false, "zero": false},
   "axis": {"title": "(b)", "titleX": 343, "titleY": 61, "titleBaseline": "middle", "titleAlign": "center", "titleAngle": 0, "titleFontSize": 9, "titleFontWeight": "normal", "titleColor": "#222222", "labels": false, "ticks": false, "grid": false, "domainColor": "#555555", "domainWidth": 1.5}},
  "y": {"field": "v", "type": "quantitative", "scale": {"domain": [0, 200], "nice": false, "zero": false},
   "axis": {"title": null, "orient": "left", "offset": -60, "values": [0,20,40,60,80,100,120,140,160,180,200], "labelExpr": "datum.value + '×10⁹/L'", "labelFontSize": 5.3, "labelColor": "#555555", "labelPadding": 1, "tickSize": 2, "tickColor": "#555555", "domainColor": "#555555", "domainWidth": 1.5, "grid": true, "gridColor": "#c4c4c4", "gridWidth": 0.8}},
  "color": {"datum": "WBC", "type": "nominal", "scale": {"domain": ["Platelets", "WBC"], "range": ["#6f8b22", "#e53b1f"]}}}},
{"data": {"name": "wbc"}, "transform": [{"filter": "datum.t <= 107"}], "mark": {"type": "point", "filled": false, "size": 13, "strokeWidth": 0.9, "opacity": 1},
 "encoding": {
  "x": {"field": "t", "type": "quantitative", "scale": {"domain": [-0.3, 107.4], "range": [60, 660], "nice": false, "zero": false},
   "axis": {"title": "(b)", "titleX": 343, "titleY": 61, "titleBaseline": "middle", "titleAlign": "center", "titleAngle": 0, "titleFontSize": 9, "titleFontWeight": "normal", "titleColor": "#222222", "labels": false, "ticks": false, "grid": false, "domainColor": "#555555", "domainWidth": 1.5}},
  "y": {"field": "v", "type": "quantitative", "scale": {"domain": [0, 200], "nice": false, "zero": false},
   "axis": {"title": null, "orient": "left", "offset": -60, "values": [0,20,40,60,80,100,120,140,160,180,200], "labelExpr": "datum.value + '×10⁹/L'", "labelFontSize": 5.3, "labelColor": "#555555", "labelPadding": 1, "tickSize": 2, "tickColor": "#555555", "domainColor": "#555555", "domainWidth": 1.5, "grid": true, "gridColor": "#c4c4c4", "gridWidth": 0.8}},
  "color": {"datum": "WBC", "type": "nominal", "scale": {"domain": ["Platelets", "WBC"], "range": ["#6f8b22", "#e53b1f"]}}}}
]
}
]
}
